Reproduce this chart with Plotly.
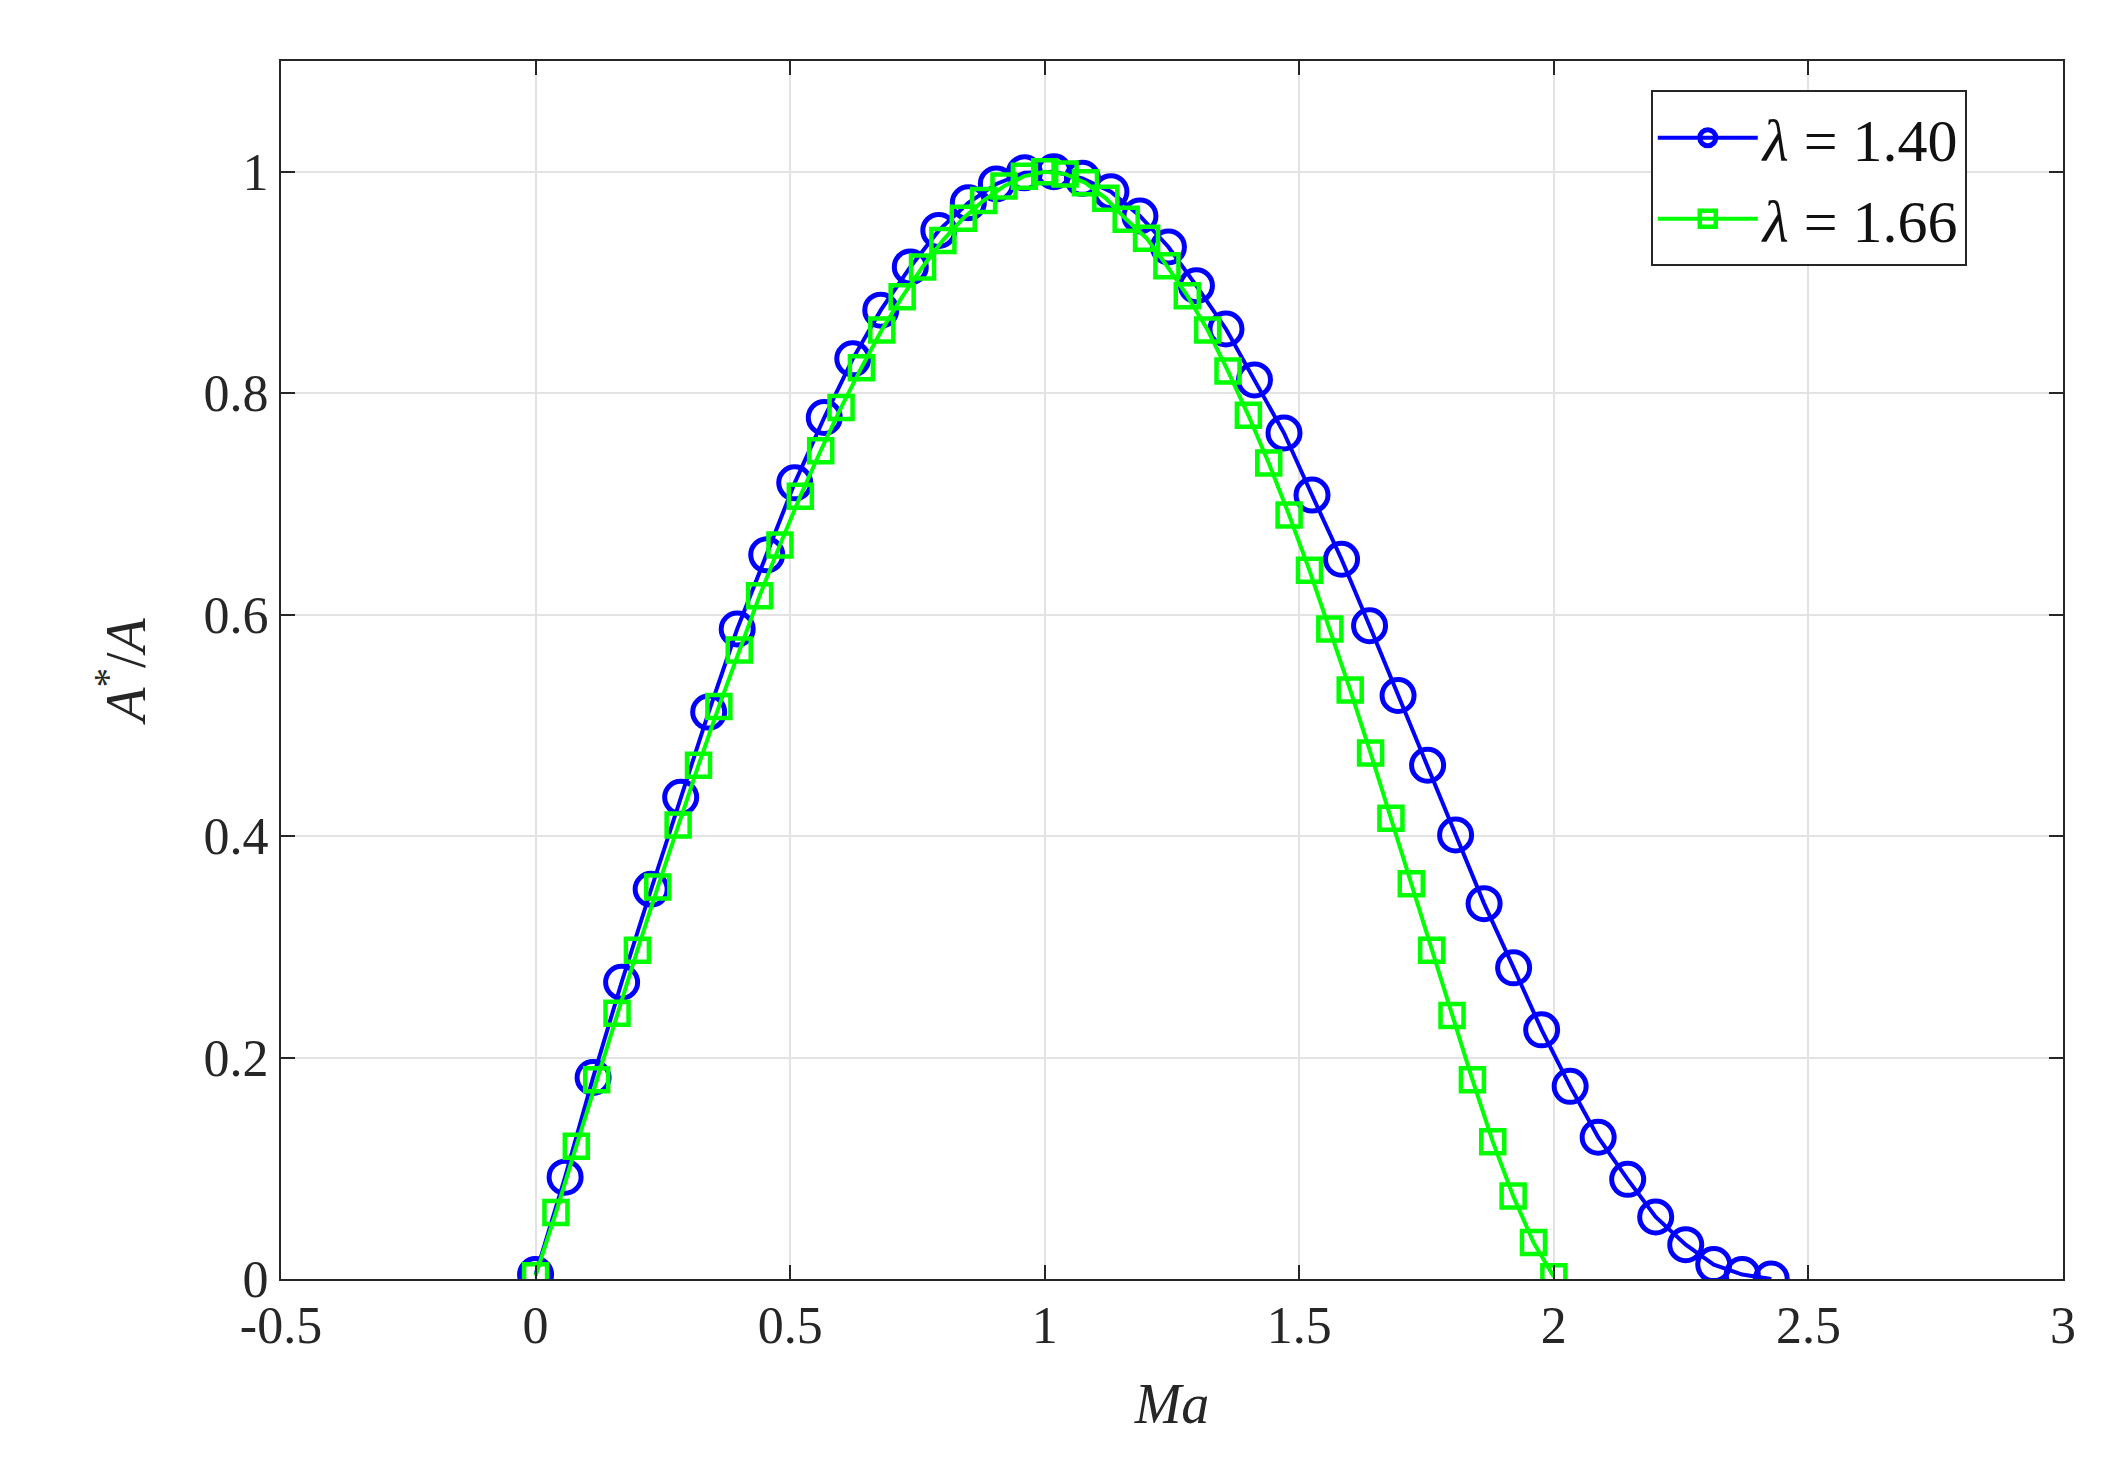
import plotly.graph_objects as go

ma_140 = [0, 0.058, 0.113, 0.169, 0.227, 0.285, 0.34, 0.396, 0.454, 0.509, 0.567, 0.623, 0.678, 0.736,
          0.792, 0.85, 0.905, 0.96, 1.018, 1.074, 1.13, 1.187, 1.243, 1.298, 1.356, 1.412, 1.47, 1.525,
          1.583, 1.638, 1.694, 1.752, 1.807, 1.863, 1.921, 1.976, 2.032, 2.087, 2.145, 2.2, 2.259, 2.314, 2.37, 2.427]
ratio_140 = [0.004, 0.092, 0.182, 0.268, 0.352, 0.435, 0.512, 0.587, 0.654, 0.719, 0.778, 0.831, 0.875, 0.914,
             0.947, 0.972, 0.989, 0.999, 1.0, 0.994, 0.982, 0.96, 0.932, 0.897, 0.858, 0.812, 0.764, 0.708,
             0.65, 0.59, 0.527, 0.464, 0.401, 0.339, 0.281, 0.225, 0.174, 0.128, 0.09, 0.056, 0.031, 0.013, 0.004, 0.0]

ma_166 = [0, 0.04, 0.08, 0.12, 0.16, 0.2, 0.24, 0.28, 0.32, 0.36, 0.4, 0.44, 0.48, 0.52, 0.56, 0.6, 0.64, 0.68,
          0.72, 0.76, 0.8, 0.84, 0.88, 0.92, 0.96, 1.0, 1.04, 1.08, 1.12, 1.16, 1.2, 1.24, 1.28, 1.32, 1.36, 1.4,
          1.44, 1.48, 1.52, 1.56, 1.6, 1.64, 1.68, 1.72, 1.76, 1.8, 1.84, 1.88, 1.92, 1.96, 2.0]
ratio_166 = [0.003, 0.06, 0.12, 0.18, 0.24, 0.297, 0.354, 0.41, 0.464, 0.517, 0.568, 0.617, 0.663, 0.707, 0.748,
             0.787, 0.823, 0.857, 0.887, 0.914, 0.938, 0.958, 0.974, 0.987, 0.996, 1.0, 0.998, 0.99, 0.976, 0.957,
             0.94, 0.915, 0.888, 0.857, 0.82, 0.78, 0.737, 0.69, 0.64, 0.587, 0.532, 0.475, 0.416, 0.357, 0.297,
             0.238, 0.18, 0.124, 0.075, 0.033, 0.002]

x_ticks = [-0.5, 0, 0.5, 1, 1.5, 2, 2.5, 3]
y_ticks = [0, 0.2, 0.4, 0.6, 0.8, 1]

FONT = "Liberation Serif"
fig = go.Figure()
fig.add_trace(go.Scatter(x=ma_140, y=ratio_140, mode="lines+markers", name="<i>λ</i> = 1.40",
                         line=dict(color="#0000ff", width=4),
                         marker=dict(symbol="circle-open", size=32, color="#0000ff", line=dict(width=5))))
fig.add_trace(go.Scatter(x=ma_166, y=ratio_166, mode="lines+markers", name="<i>λ</i> = 1.66",
                         line=dict(color="#00ff00", width=4),
                         marker=dict(symbol="square-open", size=23, color="#00ff00", line=dict(width=4.5))))

axis_common = dict(showline=True, linecolor="#262626", linewidth=2, mirror="ticks", ticks="inside",
                   ticklen=14, tickwidth=2, tickcolor="#262626", showgrid=True, gridcolor="#e3e3e3",
                   gridwidth=2, zeroline=False, tickfont=dict(family=FONT, size=52, color="#262626"))
fig.update_layout(
    width=2106, height=1481, paper_bgcolor="white", plot_bgcolor="white",
    margin=dict(l=273, r=51, t=53, b=210),
    font=dict(family=FONT, color="#262626"),
    xaxis=dict(range=[-0.5, 3], tickvals=x_ticks, ticktext=[str(v) for v in x_ticks],
               title=dict(text="<i>Ma</i>", font=dict(size=56, family=FONT), standoff=30), **axis_common),
    yaxis=dict(range=[0, 1.1], tickvals=y_ticks, ticktext=[str(v) for v in y_ticks],
               title=dict(text="<i>A</i><sup>*</sup>/<i>A</i>", font=dict(size=56, family=FONT), standoff=40),
               **axis_common),
    legend=dict(x=0.946, y=0.976, xanchor="right", yanchor="top", bgcolor="white",
                bordercolor="#262626", borderwidth=2, font=dict(family=FONT, size=60, color="#111"),
                itemwidth=100, tracegroupgap=14),
)
fig.write_html("out.html")
